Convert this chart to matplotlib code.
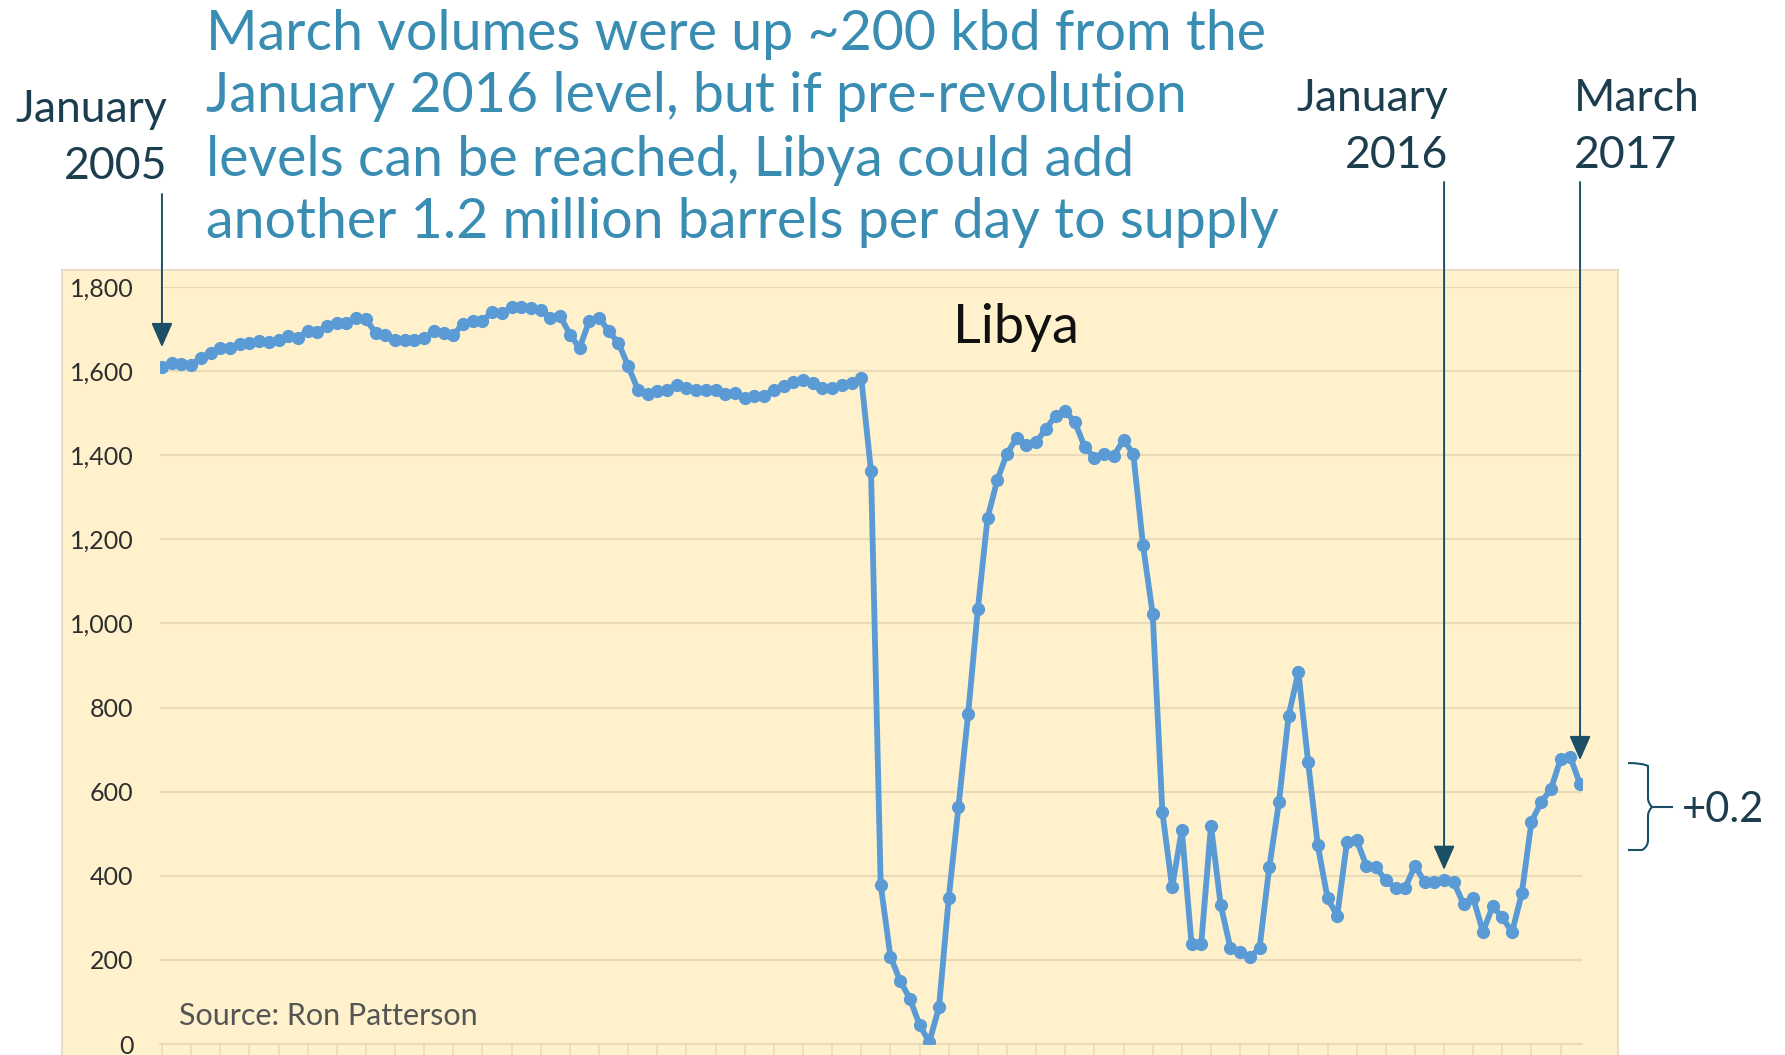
import matplotlib
matplotlib.use("Agg")
import matplotlib.pyplot as plt
from matplotlib.patches import Rectangle, PathPatch
from matplotlib.path import Path
import numpy as np

# ---------------- data (kbd, monthly Jan 2005 .. Mar 2017) ----------------
start_year = 2005
values = [
    # 2005
    1609, 1620, 1617, 1614, 1632, 1644, 1654, 1655, 1665, 1667, 1671, 1670,
    # 2006
    1673, 1683, 1679, 1695, 1693, 1707, 1715, 1715, 1727, 1723, 1691, 1687,
    # 2007
    1675, 1675, 1675, 1679, 1695, 1691, 1687, 1712, 1720, 1719, 1741, 1738,
    # 2008
    1752, 1752, 1749, 1746, 1727, 1731, 1687, 1655, 1720, 1727, 1695, 1667,
    # 2009
    1612, 1556, 1545, 1553, 1554, 1568, 1560, 1554, 1556, 1556, 1545, 1549,
    # 2010
    1535, 1541, 1541, 1556, 1564, 1575, 1578, 1572, 1560, 1560, 1566, 1572,
    # 2011
    1583, 1362, 378, 208, 150, 108, 45, 5, 87, 346, 563, 785,
    # 2012
    1034, 1251, 1341, 1404, 1441, 1425, 1431, 1462, 1494, 1505, 1478, 1420,
    # 2013
    1394, 1402, 1399, 1436, 1404, 1187, 1022, 551, 373, 509, 238, 238,
    # 2014
    519, 331, 228, 218, 206, 228, 420, 575, 781, 885, 671, 472,
    # 2015
    347, 305, 480, 485, 424, 420, 389, 371, 371, 424, 385, 385,
    # 2016
    389, 385, 333, 347, 267, 327, 301, 266, 358, 529, 575, 606,
    # 2017
    678, 682, 618,
]
y_ticks = [0, 200, 400, 600, 800, 1000, 1200, 1400, 1600, 1800]
y_tick_labels = ["0", "200", "400", "600", "800", "1,000", "1,200", "1,400", "1,600", "1,800"]

headline = [
    "March volumes were up ~200 kbd from the",
    "January 2016 level, but if pre-revolution",
    "levels can be reached, Libya could add",
    "another 1.2 million barrels per day to supply",
]
marker_labels = ["January\n2005", "January\n2016", "March\n2017"]
marker_index = [0, 132, 146]
chart_title = "Libya"
source_text = "Source: Ron Patterson"
change_text = "+0.2"

# ---------------- style ----------------
W, H = 1785, 1055
BG = "#fff1cc"
GRID = "#e9dbb8"
LINE = "#5b9bd5"
DARK = "#1c3d4e"
ARROW = "#1b4f66"
TEAL = "#3a8db2"
FONT = "Lato"

plt.rcParams["font.family"] = [FONT, "DejaVu Sans"]

fig = plt.figure(figsize=(W / 100, H / 100), dpi=100)
fig.patch.set_facecolor("white")


def fx(x):
    return x / W


def fy(y_top):
    return 1 - y_top / H


# chart-area background (Excel-like beige panel)
fig.add_artist(Rectangle((fx(62), -0.02), fx(1618 - 62), fy(270) + 0.02,
                         transform=fig.transFigure, facecolor=BG,
                         edgecolor="#eadfc6", lw=1.5, zorder=0))

ax = fig.add_axes([fx(160), fy(1044), fx(1582 - 160), (1044 - 287) / H])
ax.set_facecolor("none")

x = np.arange(len(values))
ax.plot(x, values, color=LINE, lw=4.2, marker="o", ms=8.5,
        markerfacecolor=LINE, markeredgecolor=LINE, zorder=3,
        solid_joinstyle="round")

ax.set_xlim(-0.2, len(values) - 1 + 0.2)
ax.set_ylim(0, 1800)
ax.set_yticks(y_ticks)
ax.set_yticklabels(y_tick_labels)
ax.tick_params(axis="y", length=0, pad=19, labelsize=18, labelcolor="#2e2e2e")
ax.set_xticks(np.arange(0, len(values), 3))
ax.set_xticklabels([])
ax.tick_params(axis="x", length=14, color="#eadcbc", width=1.2, direction="out")
ax.grid(axis="y", color=GRID, lw=1.5)
ax.set_axisbelow(True)
for s in ["top", "right", "left"]:
    ax.spines[s].set_visible(False)
ax.spines["bottom"].set_color("#e6d8b8")
ax.spines["bottom"].set_linewidth(1.2)

# chart title & source
fig.text(fx(1016), fy(327), chart_title, fontsize=39, color="#111111",
         ha="center", va="center")
fig.text(fx(179), fy(1016), source_text, fontsize=22, color="#555555",
         ha="left", va="center")

# headline (four lines)
for i, line in enumerate(headline):
    fig.text(fx(206), fy(34 + 63 * i), line, fontsize=40, color=TEAL,
             ha="left", va="center")

# marker labels
fig.text(fx(167), fy(138), marker_labels[0], fontsize=32, color=DARK,
         ha="right", va="center", linespacing=1.5)
fig.text(fx(1448), fy(127), marker_labels[1], fontsize=32, color=DARK,
         ha="right", va="center", linespacing=1.5)
fig.text(fx(1574), fy(127), marker_labels[2], fontsize=32, color=DARK,
         ha="left", va="center", linespacing=1.5)

# arrows from labels down to the points
arrow_top = [194, 182, 182]
tip_offset = [48, 25, 57]
for idx, top, off in zip(marker_index, arrow_top, tip_offset):
    ax.annotate("", xy=(idx, values[idx] + off), xycoords="data",
                xytext=(idx, H - top), textcoords=("data", "figure pixels"),
                arrowprops=dict(arrowstyle="-|>,head_length=0.75,head_width=0.33",
                                color=ARROW, lw=1.4, shrinkA=0, shrinkB=0,
                                mutation_scale=20),
                annotation_clip=False)

# curly bracket with +0.2
xb0, xb1, xmid = 1628, 1648, 1672
yt, ym, yb = 763, 807, 850
verts = [(xb0, yt), (1642, yt), (xb1, 766), (xb1, 775),
         (xb1, 798), (xb1, 803), (1652, ym), (1660, ym),
         (1652, ym), (xb1, 811), (xb1, 816),
         (xb1, 840), (xb1, 847), (1642, yb), (xb0, yb)]
codes = [Path.MOVETO, Path.CURVE3, Path.CURVE3, Path.LINETO,
         Path.LINETO, Path.CURVE3, Path.CURVE3, Path.LINETO,
         Path.MOVETO, Path.CURVE3, Path.CURVE3,
         Path.LINETO, Path.CURVE3, Path.CURVE3, Path.LINETO]
verts_fig = [(fx(a), fy(b)) for a, b in verts]
fig.add_artist(PathPatch(Path(verts_fig, codes), transform=fig.transFigure,
                         facecolor="none", edgecolor=ARROW, lw=1.5))
fig.add_artist(plt.Line2D([fx(1660), fx(xmid)], [fy(ym), fy(ym)],
                          transform=fig.transFigure, color=ARROW, lw=1.5))
fig.text(fx(1682), fy(810), change_text, fontsize=30, color=DARK,
         ha="left", va="center")

fig.savefig("out.png", dpi=100, facecolor="white")
